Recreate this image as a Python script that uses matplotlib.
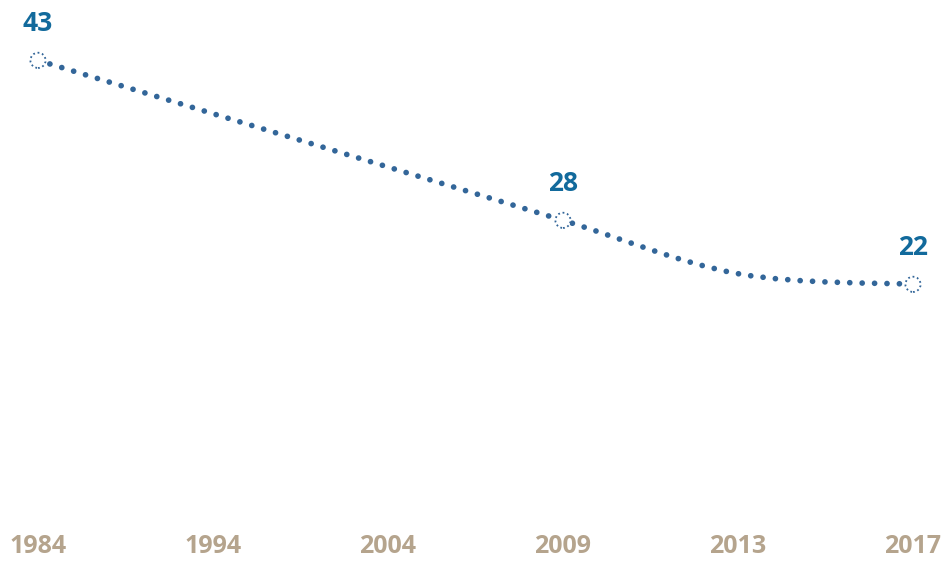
import matplotlib.pyplot as plt
import numpy as np
from matplotlib.path import Path
from matplotlib.patches import PathPatch

# data
years = ['1984', '1994', '2004', '2009', '2013', '2017']
values = [43, 38, 33, 28, 23, 22]
labelled = [0, 3, 5]   # points that carry a marker + value label

line_col = '#336699'
label_col = '#126A9C'
tick_col = '#B5A48D'

fig = plt.figure(figsize=(9.45, 5.63), dpi=100)
ax = fig.add_axes([38 / 945, 44 / 563, 875 / 945, 480 / 563])

x = np.arange(len(years))
y = np.array(values, dtype=float)

# smooth line through the points (catmull-rom as bezier segments)
pts = np.column_stack([x, y])
verts = [tuple(pts[0])]
codes = [Path.MOVETO]
n = len(pts)
for i in range(n - 1):
    p0 = pts[max(i - 1, 0)]
    p1 = pts[i]
    p2 = pts[i + 1]
    p3 = pts[min(i + 2, n - 1)]
    c1 = p1 + (p2 - p0) / 6
    c2 = p2 - (p3 - p1) / 6
    verts += [tuple(c1), tuple(c2), tuple(p2)]
    codes += [Path.CURVE4, Path.CURVE4, Path.CURVE4]

curve = PathPatch(Path(verts, codes), fill=False, edgecolor=line_col,
                  linewidth=4.1, linestyle=(0, (0.01, 2.17)), capstyle='round',
                  clip_on=False)
ax.add_patch(curve)

# hollow dotted markers on the labelled points
ax.scatter(x[labelled], y[labelled], s=120, facecolor='white',
           edgecolor=line_col, linewidths=1.3, linestyle=(0, (1, 1.5)),
           zorder=3, clip_on=False)

for i in labelled:
    ax.annotate(str(values[i]), (x[i], y[i]), xytext=(0, 17),
                textcoords='offset points', ha='center', va='bottom',
                fontsize=19, fontweight='bold', family='Open Sans', color=label_col)

ax.set_xlim(0, len(years) - 1)
ax.set_ylim(0, 45)
ax.set_xticks(x)
ax.set_xticklabels(years, fontsize=18, fontweight='bold', family='Open Sans', color=tick_col)
ax.tick_params(axis='x', length=0, pad=11)
ax.set_yticks([])
for s in ax.spines.values():
    s.set_visible(False)

plt.savefig('out.png', dpi=100)
